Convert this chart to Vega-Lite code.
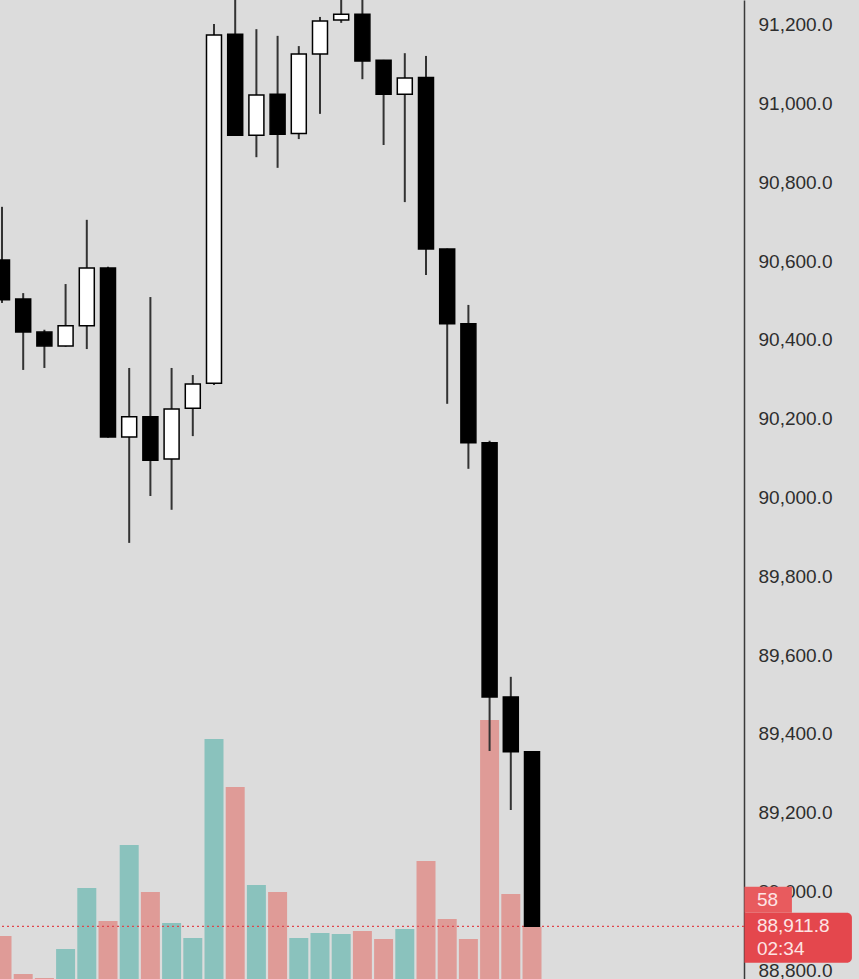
{
  "$schema": "https://vega.github.io/schema/vega-lite/v6.json",
  "width": 744,
  "height": 979,
  "autosize": {"type": "none"},
  "padding": {"left": 0, "top": 0, "right": 115, "bottom": 0},
  "background": "#dcdcdc",
  "config": {"view": {"stroke": null, "fill": "#dcdcdc"}},
  "datasets": {
    "candles": [
      {"i": 1, "open": 90603, "high": 90738, "low": 90494, "close": 90502, "volume": 43, "dir": "down"},
      {"i": 2, "open": 90504, "high": 90519, "low": 90324, "close": 90420, "volume": 5, "dir": "down"},
      {"i": 3, "open": 90420, "high": 90426, "low": 90329, "close": 90385, "volume": 1, "dir": "down"},
      {"i": 4, "open": 90385, "high": 90542, "low": 90383, "close": 90436, "volume": 30, "dir": "up"},
      {"i": 5, "open": 90436, "high": 90705, "low": 90377, "close": 90583, "volume": 91, "dir": "up"},
      {"i": 6, "open": 90583, "high": 90586, "low": 90152, "close": 90154, "volume": 58, "dir": "down"},
      {"i": 7, "open": 90154, "high": 90329, "low": 89885, "close": 90205, "volume": 134, "dir": "up"},
      {"i": 8, "open": 90205, "high": 90509, "low": 90004, "close": 90095, "volume": 87, "dir": "down"},
      {"i": 9, "open": 90098, "high": 90329, "low": 89969, "close": 90225, "volume": 56, "dir": "up"},
      {"i": 10, "open": 90227, "high": 90311, "low": 90156, "close": 90288, "volume": 41, "dir": "up"},
      {"i": 11, "open": 90290, "high": 91202, "low": 90286, "close": 91174, "volume": 240, "dir": "up"},
      {"i": 12, "open": 91176, "high": 91290, "low": 90918, "close": 90920, "volume": 192, "dir": "down"},
      {"i": 13, "open": 90920, "high": 91189, "low": 90864, "close": 91022, "volume": 94, "dir": "up"},
      {"i": 14, "open": 91024, "high": 91172, "low": 90837, "close": 90922, "volume": 87, "dir": "down"},
      {"i": 15, "open": 90924, "high": 91146, "low": 90910, "close": 91126, "volume": 41, "dir": "up"},
      {"i": 16, "open": 91126, "high": 91220, "low": 90974, "close": 91210, "volume": 46, "dir": "up"},
      {"i": 17, "open": 91212, "high": 91280, "low": 91205, "close": 91227, "volume": 45, "dir": "up"},
      {"i": 18, "open": 91227, "high": 91285, "low": 91062, "close": 91108, "volume": 48, "dir": "down"},
      {"i": 19, "open": 91110, "high": 91111, "low": 90895, "close": 91024, "volume": 40, "dir": "down"},
      {"i": 20, "open": 91024, "high": 91128, "low": 90750, "close": 91065, "volume": 50, "dir": "up"},
      {"i": 21, "open": 91066, "high": 91121, "low": 90565, "close": 90631, "volume": 118, "dir": "down"},
      {"i": 22, "open": 90631, "high": 90632, "low": 90238, "close": 90441, "volume": 60, "dir": "down"},
      {"i": 23, "open": 90441, "high": 90489, "low": 90073, "close": 90139, "volume": 40, "dir": "down"},
      {"i": 24, "open": 90139, "high": 90144, "low": 89357, "close": 89494, "volume": 259, "dir": "down"},
      {"i": 25, "open": 89494, "high": 89545, "low": 89207, "close": 89355, "volume": 85, "dir": "down"},
      {"i": 26, "open": 89355, "high": 89356, "low": 88911.8, "close": 88911.8, "volume": 52, "dir": "down"}
    ],
    "last": [
      {"price": 88911.8, "countdown": "02:34", "badge": "58"}
    ]
  },
  "layer": [
    {
      "data": {"name": "candles"},
      "mark": {"type": "bar", "size": 19},
      "encoding": {
        "x": {"field": "i", "type": "quantitative", "scale": {"domain": [0.906, 36.0], "nice": false, "zero": false, "padding": 0}, "axis": null},
        "y": {"field": "volume", "type": "quantitative", "scale": {"domain": [0, 979], "nice": false}, "axis": null},
        "color": {"condition": {"test": "datum.dir === 'up'", "value": "#8ac2bd"}, "value": "#df9b97"}
      }
    },
    {
      "layer": [
        {
          "data": {"name": "last"},
          "mark": {"type": "rule", "color": "#e0464c", "strokeWidth": 1.2, "strokeDash": [2, 3]},
          "encoding": {
            "y": {"field": "price", "type": "quantitative"}
          }
        },
        {
          "data": {"name": "candles"},
          "mark": {"type": "rule", "color": "#333333", "strokeWidth": 2},
          "encoding": {
            "x": {"field": "i", "type": "quantitative", "scale": {"domain": [0.906, 36.0], "nice": false, "zero": false, "padding": 0}, "axis": null},
            "y": {"field": "low", "type": "quantitative", "scale": {"domain": [88778, 91263], "nice": false, "zero": false},
              "axis": {"orient": "right", "values": [88800, 89000, 89200, 89400, 89600, 89800, 90000, 90200, 90400, 90600, 90800, 91000, 91200],
                "format": ",.1f", "title": null, "grid": false, "ticks": false, "tickSize": 0, "labelPadding": 14,
                "labelFont": "Liberation Sans", "labelFontSize": 19, "labelColor": "#2e2e2e", "labelFlush": false, "labelOverlap": false,
                "domainColor": "#3a3a3a", "domainWidth": 1.5, "zindex": 0}},
            "y2": {"field": "high"}
          }
        },
        {
          "data": {"name": "candles"},
          "mark": {"type": "bar", "size": 15, "stroke": "#000000", "strokeWidth": 1.5},
          "encoding": {
            "x": {"field": "i", "type": "quantitative"},
            "y": {"field": "open", "type": "quantitative"},
            "y2": {"field": "close"},
            "fill": {"condition": {"test": "datum.dir === 'up'", "value": "#ffffff"}, "value": "#000000"}
          }
        },
        {
          "data": {"name": "last"},
          "mark": {"type": "rect", "color": "#e4474d", "cornerRadiusTopRight": 5, "cornerRadiusBottomRight": 5},
          "encoding": {
            "x": {"datum": 36.02, "type": "quantitative"},
            "x2": {"datum": 41.09},
            "y": {"datum": 88946, "type": "quantitative"},
            "y2": {"datum": 88819}
          }
        },
        {
          "data": {"name": "last"},
          "mark": {"type": "rect", "color": "#e85b5e"},
          "encoding": {
            "x": {"datum": 36.02, "type": "quantitative"},
            "x2": {"datum": 38.26},
            "y": {"datum": 89012, "type": "quantitative"},
            "y2": {"datum": 88946}
          }
        },
        {
          "data": {"name": "last"},
          "mark": {"type": "text", "align": "left", "baseline": "middle", "font": "Liberation Sans", "fontSize": 19, "color": "#fde4e4"},
          "encoding": {
            "x": {"datum": 36.61, "type": "quantitative"},
            "y": {"datum": 88979, "type": "quantitative"},
            "text": {"field": "badge"}
          }
        },
        {
          "data": {"name": "last"},
          "mark": {"type": "text", "align": "left", "baseline": "middle", "font": "Liberation Sans", "fontSize": 19, "color": "#fde4e4"},
          "encoding": {
            "x": {"datum": 36.61, "type": "quantitative"},
            "y": {"field": "price", "type": "quantitative"},
            "text": {"field": "price", "format": ",.1f"}
          }
        },
        {
          "data": {"name": "last"},
          "mark": {"type": "text", "align": "left", "baseline": "middle", "font": "Liberation Sans", "fontSize": 19, "color": "#fde4e4"},
          "encoding": {
            "x": {"datum": 36.61, "type": "quantitative"},
            "y": {"datum": 88854, "type": "quantitative"},
            "text": {"field": "countdown"}
          }
        }
      ]
    }
  ],
  "resolve": {"scale": {"y": "independent"}}
}
